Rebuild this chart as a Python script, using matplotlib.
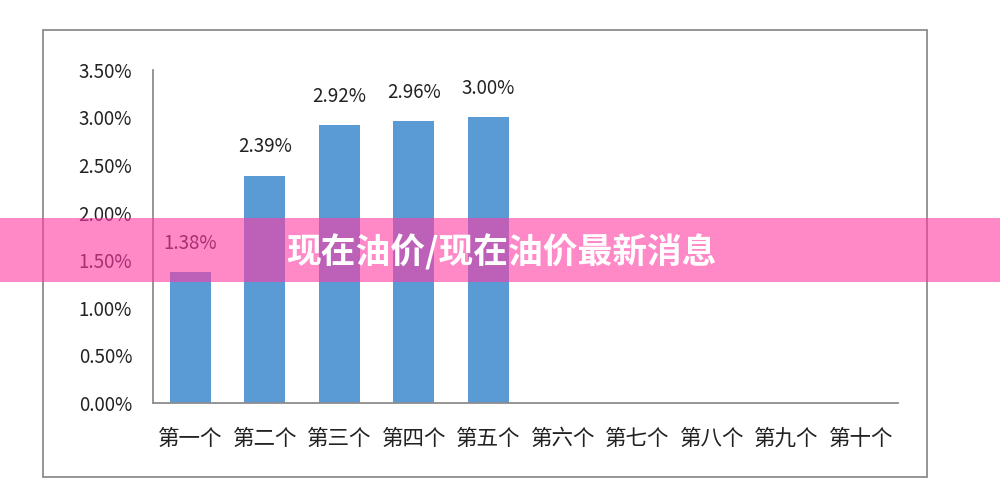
import matplotlib.pyplot as plt
from matplotlib.patches import Rectangle

plt.rcParams['font.family'] = ['Noto Sans CJK SC', 'DejaVu Sans']

categories = ['第一个', '第二个', '第三个', '第四个', '第五个',
              '第六个', '第七个', '第八个', '第九个', '第十个']
values = [1.38, 2.39, 2.92, 2.96, 3.00]
yticks = [0.0, 0.5, 1.0, 1.5, 2.0, 2.5, 3.0, 3.5]
banner_text = '现在油价/现在油价最新消息'

fig = plt.figure(figsize=(10, 5.03), dpi=100)
fig.patch.set_facecolor('white')

# outer chart frame
fig.add_artist(Rectangle((0.043, 0.052), 0.884, 0.888, transform=fig.transFigure,
                         fill=False, edgecolor='#8c8c8c', linewidth=1.3))

ax = fig.add_axes([0.153, 0.199, 0.745, 0.662])
x = list(range(len(categories)))
ax.bar(x[:len(values)], values, width=0.55, color='#5B9BD5')
for xi, v in zip(x, values):
    ax.annotate(f'{v:.2f}%', (xi, v), xytext=(0, 13), textcoords='offset points',
                ha='center', va='bottom', fontsize=13.5, color='#222222')

ax.set_xlim(-0.5, len(categories) - 0.5)
ax.set_ylim(0, 3.5)
ax.set_yticks(yticks)
ax.set_yticklabels([f'{t:.2f}%' for t in yticks], fontsize=13.5, color='#222222')
ax.set_xticks(x)
ax.set_xticklabels(categories, fontsize=15.5, color='#222222')
ax.tick_params(axis='y', length=0, pad=15)
ax.tick_params(axis='x', length=0, pad=18)
for s in ['top', 'right']:
    ax.spines[s].set_visible(False)
for s in ['left', 'bottom']:
    ax.spines[s].set_color('#8c8c8c')
    ax.spines[s].set_linewidth(1.3)

# pink banner overlay
fig.add_artist(Rectangle((0, 0.439), 1, 0.128, transform=fig.transFigure,
                         facecolor='#FF39A3', alpha=0.6, edgecolor='none', zorder=10))
fig.text(0.501, 0.499, banner_text, ha='center', va='center', fontsize=25,
         fontweight='bold', color='white', zorder=11)

fig.savefig('out.png', dpi=100)
